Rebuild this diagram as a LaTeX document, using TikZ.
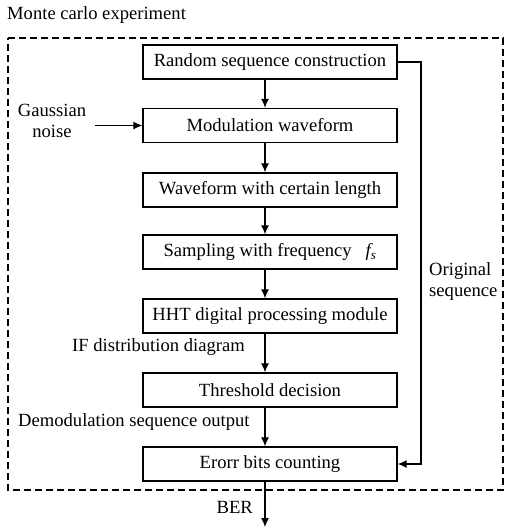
\documentclass[tikz,border=0pt]{standalone}
\usepackage{fontspec}
\setmainfont{Liberation Serif}
\usetikzlibrary{arrows.meta}
\begin{document}
\begin{tikzpicture}[x=1pt,y=-1pt,
  box/.style={draw,line width=1.3pt,minimum width=254pt,minimum height=34pt,inner sep=0pt,font=\fontsize{18.6}{21}\selectfont},
  lbl/.style={inner sep=0pt,font=\fontsize{18.6}{21}\selectfont},
  arr/.style={line width=1.2pt,-{Latex[length=9pt,width=8pt]}},
  ln/.style={line width=1.2pt}]
\useasboundingbox (0,0) rectangle (504,527);
\draw[line width=1.3pt,dash pattern=on 7pt off 4pt] (8,38) -- (503,38) -- (503,490) -- (8,490) -- cycle;
\node[lbl,anchor=west] (title) at (7,15) {Monte carlo experiment};
\node[box] (b1) at (270,62) {Random sequence construction};
\node[box] (b2) at (270,125.5) {Modulation waveform};
\node[box] (b3) at (270,190) {Waveform with certain length};
\node[box] (b4) at (270,252) {Sampling with frequency \enspace\textit{f\textsubscript{s}}};
\node[box] (b5) at (270,316) {HHT digital processing module};
\node[box] (b6) at (270,390) {Threshold decision};
\node[box] (b7) at (270,464) {Erorr bits counting};
\node[lbl,align=center] (gn) at (52,121) {Gaussian\\noise};
\node[lbl,align=left,anchor=west] (os) at (429,282) {Original\\sequence};
\node[lbl,anchor=west] (ifd) at (72,347) {IF distribution diagram};
\node[lbl,anchor=west] (dso) at (18,422) {Demodulation sequence output};
\node[lbl,anchor=east] (ber) at (253,507) {BER};
\coordinate (out) at (265,527);
\coordinate (gs) at (95,125.5);
\coordinate (r1) at (421,62);
\coordinate (r2) at (421,464);
\draw[arr] (b1.south -| out) -- (b2.north -| out);
\draw[arr] (b2.south -| out) -- (b3.north -| out);
\draw[arr] (b3.south -| out) -- (b4.north -| out);
\draw[arr] (b4.south -| out) -- (b5.north -| out);
\draw[arr] (b5.south -| out) -- (b6.north -| out);
\draw[arr] (b6.south -| out) -- (b7.north -| out);
\draw[arr] (b7.south -| out) -- (out);
\draw[arr] (gs) -- (b2.west);
\draw[arr] (b1.east) -- (r1) -- (r2) -- (b7.east);
\end{tikzpicture}
\end{document}
